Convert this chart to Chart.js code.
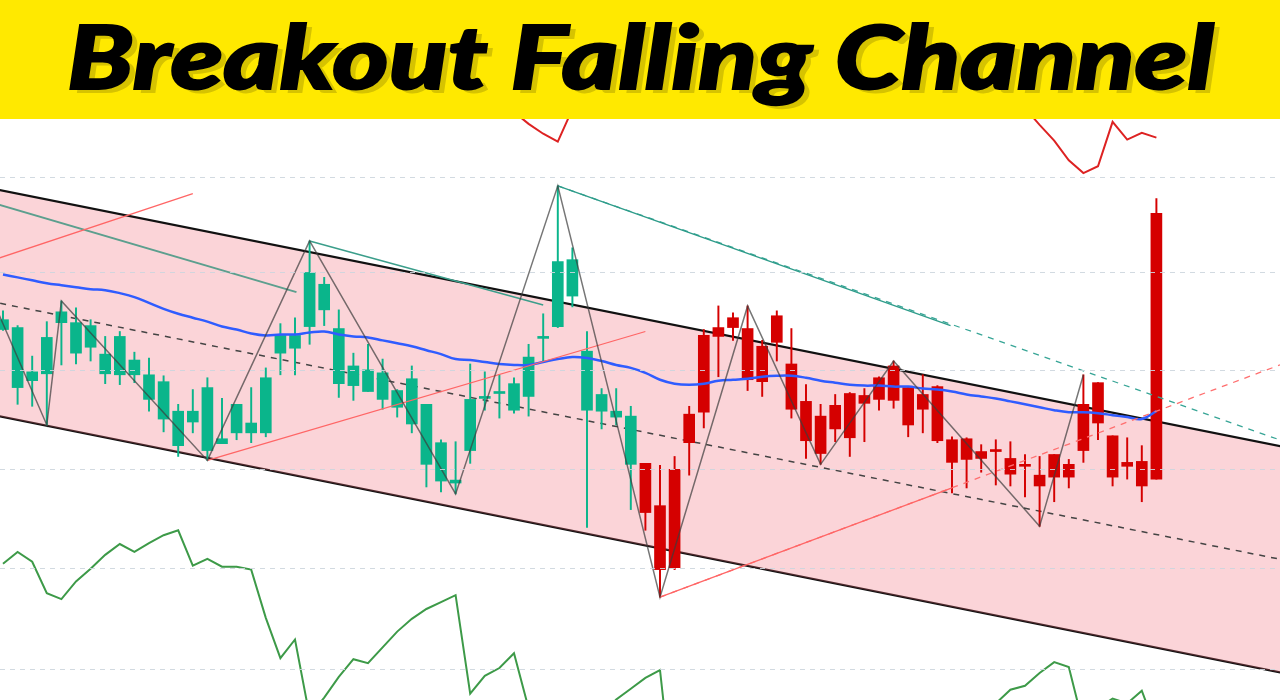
<!DOCTYPE html>
<html>
<head>
<meta charset="utf-8">
<title>Breakout Falling Channel</title>
<script src="https://cdn.jsdelivr.net/npm/chart.js@4.4.1/dist/chart.umd.min.js"></script>
<style>
  html, body { margin: 0; padding: 0; background: #fff; }
  #wrap { position: relative; width: 1280px; height: 700px; overflow: hidden; }
  #chartBox { position: absolute; left: 0; top: 0; width: 1280px; height: 700px; }
  #banner { position: absolute; left: 0; top: 0; width: 1280px; height: 119px; background: #ffe900; z-index: 2; }
  #title { position: absolute; left: 0; top: 2px; width: 1280px; text-align: center; white-space: nowrap; }
  #title span {
    display: inline-block;
    font: italic 900 88px "Lato", "Roboto", "DejaVu Sans", sans-serif;
    color: #000;
    -webkit-text-stroke: 2px #000;
    text-shadow: 5px 4px 0 #d6c300;
    transform-origin: 50% 50%;
  }
</style>
</head>
<body>
<div id="wrap">
  <div id="chartBox"><canvas id="myChart"></canvas></div>
  <div id="banner"><div id="title"><span id="titleText">Breakout Falling Channel</span></div></div>
</div>
<script>
// candles, one per session (index 0..79)
let opens  = [64.6, 58.7, 59.4, 60.1, 65.3, 62.2, 62.8, 60.1, 60.0, 60.0, 57.5, 55.5, 52.8, 55.2, 52.3, 53.0, 54.1, 54.1, 54.1, 62.2,
              62.7, 64.9, 66.6, 59.1, 58.9, 58.3, 57.5, 56.7, 55.0, 50.9, 49.2, 49.0, 52.3, 57.6, 58.1, 56.4, 57.8, 63.7, 64.9, 68.0,
              56.4, 56.3, 55.7, 50.9, 51.0, 46.7, 50.4, 56.0, 64.0, 64.8, 65.8, 64.7, 62.9, 66.0, 61.1, 57.3, 55.8, 56.9, 58.1, 57.9,
              59.7, 60.9, 58.7, 58.0, 58.8, 53.4, 53.5, 52.2, 52.3, 51.5, 50.8, 49.8, 51.9, 50.9, 57.0, 59.2, 53.8, 51.1, 51.2, 76.4];
let highs  = [66.5, 65.0, 61.9, 65.4, 67.5, 66.8, 65.6, 63.9, 64.4, 62.3, 61.7, 59.9, 57.0, 58.5, 59.7, 57.6, 57.0, 58.7, 60.7, 65.2,
              65.8, 73.6, 69.9, 66.6, 62.2, 63.1, 61.6, 58.5, 60.9, 57.0, 53.4, 53.2, 61.1, 60.3, 60.0, 59.7, 63.1, 66.2, 79.2, 72.9,
              64.4, 58.6, 58.6, 56.8, 51.0, 50.8, 51.7, 56.8, 64.6, 67.0, 66.3, 67.0, 63.5, 66.5, 64.7, 59.0, 57.0, 58.0, 58.2, 58.6,
              59.8, 61.4, 58.7, 60.0, 58.9, 53.7, 53.6, 52.9, 53.4, 53.2, 51.9, 51.7, 51.9, 51.4, 60.0, 59.2, 53.8, 53.6, 52.8, 77.9];
let lows   = [64.5, 57.0, 56.8, 54.9, 61.0, 61.1, 61.4, 59.1, 59.0, 59.2, 56.3, 54.2, 51.7, 54.1, 51.3, 53.0, 53.4, 53.1, 53.7, 60.0,
              60.0, 63.1, 65.0, 57.7, 57.4, 58.3, 56.5, 55.7, 54.1, 48.6, 48.1, 47.9, 51.0, 56.4, 55.6, 56.1, 55.8, 61.3, 64.8, 66.9,
              44.5, 54.5, 54.9, 46.3, 44.2, 37.4, 40.2, 49.8, 54.6, 59.8, 63.5, 58.4, 57.8, 61.4, 55.6, 51.5, 50.9, 53.2, 51.7, 53.2,
              56.4, 56.6, 53.7, 54.1, 53.1, 48.0, 48.5, 50.1, 48.8, 48.7, 47.6, 44.6, 47.1, 48.5, 51.1, 53.4, 48.7, 49.4, 47.1, 49.4];
let closes = [65.6, 64.8, 60.3, 63.8, 66.4, 65.3, 65.0, 62.1, 63.9, 61.5, 60.0, 59.3, 56.3, 56.3, 58.7, 53.5, 57.0, 55.1, 59.7, 64.0,
              64.0, 70.4, 69.2, 64.7, 60.9, 60.5, 60.2, 58.4, 59.6, 57.0, 53.1, 49.3, 57.5, 57.7, 58.3, 59.1, 61.8, 63.8, 71.5, 71.7,
              62.4, 58.0, 56.3, 55.8, 46.0, 40.2, 40.4, 53.1, 56.2, 63.9, 64.8, 59.5, 59.3, 63.3, 56.5, 53.3, 52.0, 54.5, 53.6, 57.1,
              57.5, 57.4, 54.9, 56.5, 53.3, 51.1, 51.4, 51.5, 52.2, 49.9, 50.7, 48.7, 49.6, 49.6, 52.3, 55.1, 49.6, 50.7, 48.7, 49.4];

// moving average (blue)
let maLine = [70.2, 69.9, 69.6, 69.3, 69.1, 68.9, 68.7, 68.6, 68.3, 67.9, 67.3, 66.7, 66.2, 65.8, 65.4, 64.9, 64.6, 64.2, 64.0, 64.1,
              64.1, 64.3, 64.4, 64.1, 63.9, 63.8, 63.5, 63.2, 62.9, 62.5, 62.1, 61.6, 61.5, 61.3, 61.1, 61.0, 61.0, 61.3, 61.6, 61.8,
              61.7, 61.4, 61.0, 60.7, 60.2, 59.5, 59.1, 59.0, 59.1, 59.4, 59.5, 59.6, 59.8, 59.9, 59.9, 59.7, 59.4, 59.2, 59.0, 58.9,
              58.9, 58.8, 58.8, 58.6, 58.5, 58.3, 58.0, 57.8, 57.6, 57.3, 57.0, 56.7, 56.4, 56.2, 56.2, 56.1, 55.9, 55.7, 55.5, 56.3];

// upper indicator (red) and lower indicator (green)
let redLine = [93.5, 94.2, 94.8, 93.9, 95.1, 95.6, 95.0, 94.3, 94.0, 93.2, 92.6, 91.8, 91.0, 90.4, 90.9, 91.5, 92.3, 93.0, 93.8, 95.2,
               96.0, 96.8, 96.1, 95.3, 94.5, 93.6, 92.8, 91.9, 91.2, 90.6, 89.9, 89.2, 88.7, 88.0, 87.5, 86.7, 85.5, 84.5, 83.7, 87.0,
               89.5, 90.8, 91.6, 92.2, 91.4, 90.3, 89.1, 90.0, 91.8, 93.4, 94.6, 95.3, 94.8, 94.1, 93.5, 92.7, 92.0, 91.6, 91.0, 90.6,
               90.9, 91.5, 92.2, 92.8, 93.1, 92.5, 91.7, 90.8, 89.6, 88.6, 87.1, 85.4, 83.8, 81.8, 80.5, 81.2, 85.7, 83.9, 84.6, 84.1];
let greenLine = [40.8, 42.0, 41.0, 37.8, 37.2, 39.0, 40.3, 41.7, 42.8, 42.0, 42.9, 43.7, 44.2, 40.6, 41.3, 40.5, 40.5, 40.2, 35.3, 31.2,
                 33.1, 25.3, 27.2, 29.3, 31.1, 30.7, 32.3, 33.9, 35.2, 36.2, 36.9, 37.6, 27.6, 29.4, 30.2, 31.7, 26.1, 24.5, 23.8, 23.5,
                 24.0, 25.4, 27.0, 28.1, 29.2, 30.0, 16.5, 22.0, 21.5, 22.5, 23.0, 22.8, 21.8, 22.4, 23.5, 24.2, 23.6, 22.9, 23.4, 24.1,
                 24.8, 24.0, 23.2, 22.6, 23.5, 24.3, 25.0, 23.9, 26.6, 28.0, 28.4, 29.7, 30.8, 30.3, 24.4, 26.1, 27.1, 26.6, 27.9, 23.9];

// falling channel [index, price]
let channelUpper = [[-1, 79.0], [88, 52.6]];
let channelMid   = [[-1, 67.5], [88, 41.1]];
let channelLower = [[-1, 56.0], [88, 29.6]];

// zigzag pivots [index, price]
let zigzag = [[-1, 68.6], [3, 54.9], [4, 67.5], [14, 51.3], [21, 73.6], [31, 47.9], [38, 79.2],
              [45, 37.4], [51, 67.0], [56, 50.9], [61, 61.4], [71, 44.6], [74, 60.0]];

// trend lines [index, price]
let redTrendA   = [[-1, 71.5], [13, 78.4]];
let redTrendB   = [[14, 51.3], [44, 64.4]];
let redTrendC   = [[45, 37.4], [65, 48.5]];
let redTrendExt = [[45, 37.4], [88, 61.3]];
let tealTrendA  = [[-1, 77.6], [20.1, 68.4]];
let tealTrendB  = [[21, 73.6], [37, 67.1]];
let tealTrendC  = [[38, 79.2], [64.9, 65.0]];
let tealTrendExt = [[38, 79.2], [88, 53.1]];

let gridLevels = [30, 40.3, 50.4, 60.4, 70.4, 80];

const upColor = '#0ab58b';
const downColor = '#d50000';

const pts = arr => arr.map(([x, y]) => ({ x: x, y: y }));
const series = arr => arr.map((y, i) => ({ x: i, y: y }));
const candleColors = closes.map((c, i) => c >= opens[i] ? upColor : downColor);

function seg(data, color, width, dash, order) {
    return {
        type: 'line',
        data: pts(data),
        borderColor: color,
        borderWidth: width,
        borderDash: dash || [],
        pointRadius: 0,
        fill: false,
        order: order
    };
}

let datasets = [
    // channel
    {
        type: 'line', data: pts(channelUpper), borderColor: '#111', borderWidth: 2.2,
        pointRadius: 0, fill: '+1', backgroundColor: 'rgba(242,100,115,0.28)', order: 10
    },
    {
        type: 'line', data: pts(channelLower), borderColor: '#111', borderWidth: 2.2,
        pointRadius: 0, fill: false, order: 10
    },
    seg(channelMid, '#444', 1.5, [6, 6], 9),

    // indicators
    { type: 'line', data: series(redLine), borderColor: '#dd2222', borderWidth: 2, pointRadius: 0, fill: false, order: 5 },
    { type: 'line', data: series(greenLine), borderColor: '#3d9a48', borderWidth: 2, pointRadius: 0, fill: false, order: 5 },

    // candles
    {
        type: 'bar',
        data: closes.map((c, i) => ({ x: i, y: [lows[i], highs[i]] })),
        backgroundColor: candleColors,
        barThickness: 1.3,
        grouped: false,
        order: 4
    },
    {
        type: 'bar',
        data: closes.map((c, i) => ({ x: i, y: [opens[i], c] })),
        backgroundColor: candleColors,
        barThickness: 11,
        minBarLength: 2,
        grouped: false,
        order: 3
    },

    // moving average
    { type: 'line', data: series(maLine), borderColor: '#2f5cff', borderWidth: 2.5, pointRadius: 0, tension: 0.4, fill: false, order: 2 },

    // trend lines
    seg(redTrendA, '#ff6666', 1.3, null, 1),
    seg(redTrendB, '#ff6666', 1.3, null, 1),
    seg(redTrendC, '#ff6666', 1.3, null, 1),
    seg(redTrendExt, '#ff6f6f', 1.3, [6, 6], 1),
    seg(tealTrendA, '#5c9f8e', 2, null, 1),
    seg(tealTrendB, '#3b9e8b', 1.5, null, 1),
    seg(tealTrendC, '#2e9c8a', 1.3, null, 1),
    seg(tealTrendExt, '#37a596', 1.3, [6, 6], 1),

    // zigzag
    seg(zigzag, 'rgba(60,60,60,0.7)', 1.5, null, 0)
];

let ctx = document.getElementById('myChart').getContext('2d');
let chart = new Chart(ctx, {
    type: 'bar',
    data: { datasets: datasets },
    options: {
        responsive: true,
        maintainAspectRatio: false,
        animation: false,
        layout: { padding: 0 },
        plugins: {
            legend: { display: false },
            tooltip: { enabled: false }
        },
        scales: {
            x: {
                type: 'linear',
                min: -0.2055,
                max: 87.466,
                offset: false,
                display: false
            },
            y: {
                type: 'linear',
                min: 26.951,
                max: 98.089,
                ticks: { display: false },
                border: { display: false, dash: [5, 5] },
                grid: { color: 'rgba(205,214,222,0.9)', lineWidth: 1, drawTicks: false, z: 1 },
                afterBuildTicks: s => { s.ticks = gridLevels.map(v => ({ value: v })); },
                afterFit: s => { s.width = 0; }
            }
        }
    }
});

function fitTitle() {
    let el = document.getElementById('titleText');
    el.style.transform = 'none';
    let w = el.offsetWidth;
    el.style.transform = 'scaleX(' + (1147 / w).toFixed(4) + ')';
}
fitTitle();
if (document.fonts) document.fonts.ready.then(fitTitle);
</script>
</body>
</html>
